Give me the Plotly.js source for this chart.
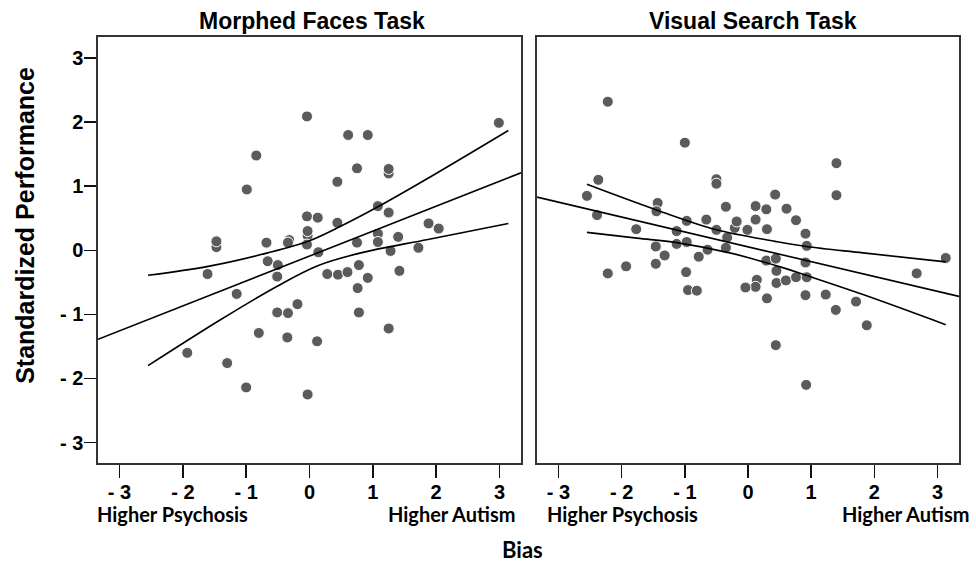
<!DOCTYPE html>
<html>
<head>
<meta charset="utf-8">
<script src="https://cdn.plot.ly/plotly-3.0.1.min.js"></script>
<style>html,body{margin:0;padding:0;background:#fff;}#chart{width:976px;height:568px;}</style>
</head>
<body>
<div id="chart"></div>
<script>
// ---- Morphed Faces Task (left panel) ----
const facesX = [-0.04, 2.99, 0.61, 0.92, -0.84, 0.75, 1.25, 1.25, -0.99, 0.44, 1.08, 1.25, -0.04, 0.13, 0.44,
  -0.03, -0.03, 1.88, 2.04, 1.08, -1.47, -1.47, -0.68, -0.32, -0.34, -0.04, 0.75, 1.08, 1.40, 1.72, 0.14, 1.28,
  -1.61, -0.66, -0.50, -0.51, -1.15, 0.28, 0.45, 0.60, 0.78, 0.92, 0.76, 1.42, -0.19, -0.51, -0.34, 0.78,
  -0.80, -0.35, 0.12, 1.25, -1.93, -1.30, -1.00, -0.03];
const facesY = [2.09, 1.99, 1.80, 1.80, 1.48, 1.28, 1.20, 1.27, 0.95, 1.07, 0.69, 0.59, 0.53, 0.51, 0.43,
  0.23, 0.30, 0.42, 0.34, 0.26, 0.05, 0.14, 0.12, 0.16, 0.12, 0.09, 0.12, 0.13, 0.21, 0.04, -0.03, -0.01,
  -0.37, -0.17, -0.23, -0.41, -0.68, -0.37, -0.38, -0.34, -0.23, -0.43, -0.59, -0.32, -0.84, -0.97, -0.98, -0.97,
  -1.29, -1.36, -1.42, -1.22, -1.60, -1.76, -2.14, -2.25];
const facesFitX = [-3.34, 3.34];
const facesFitY = [-1.39, 1.21];
const facesUpperX = [-2.55, -1.60, -0.66, 0.00, 0.50, 1.08, 2.00, 3.14];
const facesUpperY = [-0.39, -0.25, -0.04, 0.15, 0.38, 0.68, 1.20, 1.87];
const facesLowerX = [-2.55, -1.40, -0.51, 0.13, 0.81, 1.87, 3.14];
const facesLowerY = [-1.80, -1.08, -0.56, -0.24, -0.04, 0.17, 0.42];

// ---- Visual Search Task (right panel) ----
const searchX = [-2.22, -1.00, 1.40, -2.37, -0.50, -0.50, -2.55, 0.43, 1.40, -2.39, -1.43, -1.45, -0.35, 0.12,
  0.29, 0.61, 0.76, 0.91, 0.93, -1.77, -1.13, -0.97, -0.66, -0.50, -0.21, -0.18, -0.01, 0.12, 0.30, -0.33,
  -0.35, -1.13, -0.97, -1.46, -1.32, -0.64, -0.78, 0.29, 0.44, 0.91, 3.13, -1.93, -1.46, -2.22, -0.98,
  -0.95, -0.81, 0.45, 0.14, 0.12, -0.04, 0.45, 0.60, 0.76, 0.93, 0.30, 0.91, 1.23, 1.39, 1.71, 1.88,
  2.67, 0.44, 0.92];
const searchY = [2.32, 1.68, 1.36, 1.10, 1.11, 1.04, 0.85, 0.87, 0.86, 0.55, 0.74, 0.61, 0.68, 0.69,
  0.64, 0.65, 0.47, 0.26, 0.07, 0.33, 0.30, 0.46, 0.48, 0.32, 0.35, 0.45, 0.32, 0.48, 0.33, 0.20,
  0.04, 0.10, 0.13, 0.06, -0.08, 0.01, -0.10, -0.16, -0.13, -0.19, -0.12, -0.25, -0.21, -0.36, -0.34,
  -0.62, -0.63, -0.32, -0.46, -0.57, -0.58, -0.51, -0.47, -0.42, -0.42, -0.75, -0.70, -0.69, -0.93, -0.80, -1.17,
  -0.36, -1.48, -2.10];
const searchFitX = [-3.34, 3.34];
const searchFitY = [0.83, -0.72];
const searchUpperX = [-2.55, -1.45, -0.50, 0.43, 0.92, 1.82, 3.13];
const searchUpperY = [1.03, 0.63, 0.32, 0.14, 0.06, -0.04, -0.18];
const searchLowerX = [-2.55, -1.76, -1.13, -0.29, 0.55, 0.92, 1.82, 3.13];
const searchLowerY = [0.28, 0.19, 0.12, -0.04, -0.27, -0.39, -0.69, -1.16];

// ---- tick labels & text ----
const tickVals = [-3, -2, -1, 0, 1, 2, 3];
const tickText = ['- 3', '- 2', '- 1', '0', '1', '2', '3'];
const panelTitles = ['Morphed Faces Task', 'Visual Search Task'];
const lowLabel = 'Higher Psychosis';
const highLabel = 'Higher Autism';
const xTitle = 'Bias';
const yTitle = 'Standardized Performance';

const markerStyle = {color: '#5b5b5b', size: 11, line: {color: '#ffffff', width: 1}};
const lineStyle = {color: '#000000', width: 1.6};
const ciStyle = {color: '#000000', width: 1.6, shape: 'spline'};

const traces = [
  {x: facesX, y: facesY, xaxis: 'x', yaxis: 'y', mode: 'markers', type: 'scatter', marker: markerStyle},
  {x: facesFitX, y: facesFitY, xaxis: 'x', yaxis: 'y', mode: 'lines', type: 'scatter', line: lineStyle},
  {x: facesUpperX, y: facesUpperY, xaxis: 'x', yaxis: 'y', mode: 'lines', type: 'scatter', line: ciStyle},
  {x: facesLowerX, y: facesLowerY, xaxis: 'x', yaxis: 'y', mode: 'lines', type: 'scatter', line: ciStyle},
  {x: searchX, y: searchY, xaxis: 'x2', yaxis: 'y2', mode: 'markers', type: 'scatter', marker: markerStyle},
  {x: searchFitX, y: searchFitY, xaxis: 'x2', yaxis: 'y2', mode: 'lines', type: 'scatter', line: lineStyle},
  {x: searchUpperX, y: searchUpperY, xaxis: 'x2', yaxis: 'y2', mode: 'lines', type: 'scatter', line: ciStyle},
  {x: searchLowerX, y: searchLowerY, xaxis: 'x2', yaxis: 'y2', mode: 'lines', type: 'scatter', line: ciStyle}
];

const boldFont = 'Liberation Sans, Arial, Helvetica, sans-serif';
const humanFont = 'Lato, Open Sans, sans-serif';
const tickFont = {family: boldFont, size: 20, color: '#000', weight: 'bold'};

function xAxis(domain, anchor) {
  return {domain: domain, anchor: anchor, range: [-3.34, 3.34], tickvals: tickVals, ticktext: tickText,
    ticks: 'outside', ticklen: 13, tickwidth: 1.6, tickcolor: '#111', tickfont: tickFont, ticklabelstandoff: -3,
    showline: true, linecolor: '#333', linewidth: 1.6, mirror: true, showgrid: false, zeroline: false, fixedrange: true};
}

const layout = {
  width: 976, height: 568,
  margin: {l: 98, r: 17, t: 37, b: 105},
  paper_bgcolor: '#fff', plot_bgcolor: '#fff',
  showlegend: false,
  xaxis: xAxis([0, 0.4913], 'y'),
  xaxis2: xAxis([0.5099, 1], 'y2'),
  yaxis: {domain: [0, 1], anchor: 'x', range: [-3.32, 3.33], tickvals: tickVals, ticktext: tickText,
    ticks: 'outside', ticklen: 12, tickwidth: 1.6, tickcolor: '#111', tickfont: tickFont, ticklabelstandoff: -3,
    showline: true, linecolor: '#333', linewidth: 1.6, mirror: true, showgrid: false, zeroline: false},
  yaxis2: {domain: [0, 1], anchor: 'x2', range: [-3.32, 3.33], showticklabels: false, ticks: '',
    showline: true, linecolor: '#333', linewidth: 1.6, mirror: true, showgrid: false, zeroline: false},
  annotations: [
    {text: panelTitles[0], xref: 'paper', yref: 'paper', x: 0.2485, y: 1.0387, xanchor: 'center', yanchor: 'middle', showarrow: false,
      font: {family: boldFont, size: 23, color: '#000', weight: 'bold'}},
    {text: panelTitles[1], xref: 'paper', yref: 'paper', x: 0.7607, y: 1.0387, xanchor: 'center', yanchor: 'middle', showarrow: false,
      font: {family: boldFont, size: 23, color: '#000', weight: 'bold'}},
    {text: lowLabel, xref: 'paper', yref: 'paper', x: -0.0035, y: -0.1197, xanchor: 'left', yanchor: 'middle', showarrow: false,
      font: {family: humanFont, size: 20, color: '#000', weight: 'bold'}},
    {text: highLabel, xref: 'paper', yref: 'paper', x: 0.4866, y: -0.1197, xanchor: 'right', yanchor: 'middle', showarrow: false,
      font: {family: humanFont, size: 20, color: '#000', weight: 'bold'}},
    {text: lowLabel, xref: 'paper', yref: 'paper', x: 0.5192, y: -0.1197, xanchor: 'left', yanchor: 'middle', showarrow: false,
      font: {family: humanFont, size: 20, color: '#000', weight: 'bold'}},
    {text: highLabel, xref: 'paper', yref: 'paper', x: 1.0139, y: -0.1197, xanchor: 'right', yanchor: 'middle', showarrow: false,
      font: {family: humanFont, size: 20, color: '#000', weight: 'bold'}},
    {text: xTitle, xref: 'paper', yref: 'paper', x: 0.4925, y: -0.2042, xanchor: 'center', yanchor: 'middle', showarrow: false,
      font: {family: humanFont, size: 22, color: '#000', weight: 'bold'}},
    {text: yTitle, xref: 'paper', yref: 'paper', x: -0.0848, y: 0.559, xanchor: 'center', yanchor: 'middle', showarrow: false,
      textangle: -90, font: {family: boldFont, size: 25, color: '#000', weight: 'bold'}}
  ]
};

Plotly.newPlot('chart', traces, layout, {staticPlot: true, displayModeBar: false});
</script>
</body>
</html>
